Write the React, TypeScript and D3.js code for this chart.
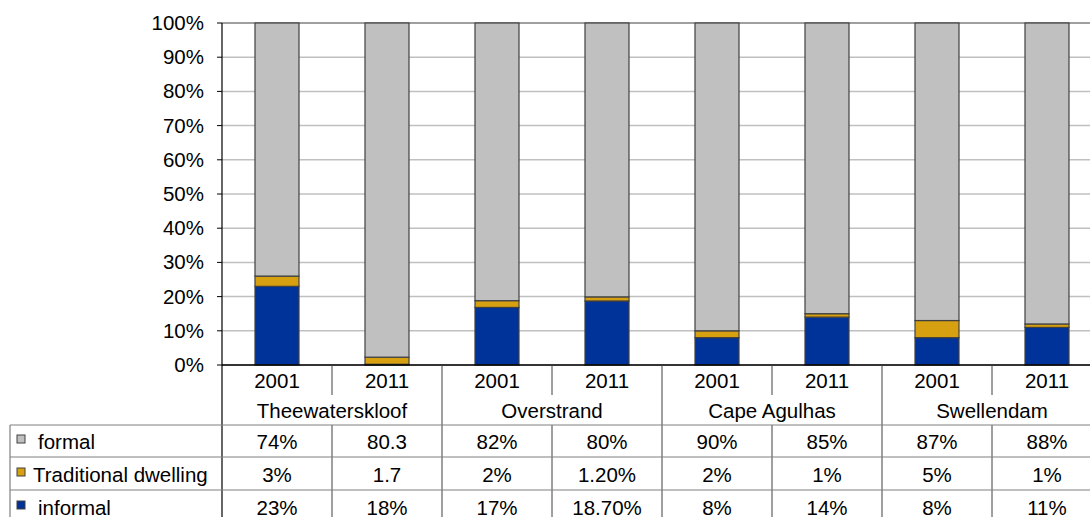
import React from "react";
import * as d3 from "d3";

const municipalities = ["Theewaterskloof", "Overstrand", "Cape Agulhas", "Swellendam"];
const years = ["2001", "2011"];
// raw values as entered in the source sheet (mixed percent/number entries)
const formalValues = [0.74, 80.3, 0.82, 0.8, 0.9, 0.85, 0.87, 0.88];
const traditionalValues = [0.03, 1.7, 0.02, 0.012, 0.02, 0.01, 0.05, 0.01];
const informalValues = [0.23, 0.18, 0.17, 0.187, 0.08, 0.14, 0.08, 0.11];
const formalLabels = ["74%", "80.3", "82%", "80%", "90%", "85%", "87%", "88%"];
const traditionalLabels = ["3%", "1.7", "2%", "1.20%", "2%", "1%", "5%", "1%"];
const informalLabels = ["23%", "18%", "17%", "18.70%", "8%", "14%", "8%", "11%"];
const yTicks = [0, 0.1, 0.2, 0.3, 0.4, 0.5, 0.6, 0.7, 0.8, 0.9, 1];

const seriesKeys = ["informal", "traditional", "formal"];
const seriesNames: Record<string, string> = {
  formal: "formal",
  traditional: "Traditional dwelling",
  informal: "informal",
};
const colors: Record<string, string> = {
  formal: "#C0C0C0",
  traditional: "#D6A010",
  informal: "#003399",
};

export default function App() {
  const W = 1090, H = 517;
  const left = 222, right = 1102, top = 23, bottom = 365;
  const font = "Liberation Sans, Arial, sans-serif";
  const fs = 20.5;

  const rows = formalValues.map((_, i) => ({
    idx: String(i),
    formal: formalValues[i],
    traditional: traditionalValues[i],
    informal: informalValues[i],
  }));
  const idxs = rows.map((r) => r.idx);
  const x = d3.scaleBand<string>().domain(idxs).range([left, right]).paddingInner(0.6).paddingOuter(0.3);
  const slot = d3.scaleBand<string>().domain(idxs).range([left, right]).padding(0);
  const y = d3.scaleLinear().domain([0, 1]).range([bottom, top]);
  const stack = d3.stack<any>().keys(seriesKeys).offset(d3.stackOffsetExpand);
  const series = stack(rows);

  const yearRowBottom = 395;
  const tableTop = 425;
  const rowLines = [425, 457, 490];
  const tableRows = [
    { key: "formal", labels: formalLabels, y: 448 },
    { key: "traditional", labels: traditionalLabels, y: 481 },
    { key: "informal", labels: informalLabels, y: 514 },
  ];
  const step = slot.step();

  return (
    <svg width={W} height={H} style={{ position: "absolute", left: 0, top: 0, background: "#fff" }} fontFamily={font}>
      {/* grid */}
      {yTicks.map((t) => (
        <line key={"g" + t} x1={left} x2={W} y1={y(t)} y2={y(t)} stroke={t === 1 ? "#404040" : "#C0C0C0"} strokeWidth={t === 1 ? 1 : 1.5} />
      ))}
      {/* y ticks and labels */}
      {yTicks.map((t) => (
        <g key={"t" + t}>
          <line x1={left - 5} x2={left} y1={y(t)} y2={y(t)} stroke="#000" />
          <text x={204} y={y(t) + 7} fontSize={fs} textAnchor="end" fill="#000">
            {d3.format(".0%")(t)}
          </text>
        </g>
      ))}
      {/* bars */}
      {series.map((s) => (
        <g key={s.key}>
          {s.map((d, i) => (
            <rect
              key={i}
              x={x(idxs[i])!}
              width={x.bandwidth()}
              y={y(d[1])}
              height={Math.max(0, y(d[0]) - y(d[1]))}
              fill={colors[s.key]}
              stroke="#404040"
              strokeWidth={1.2}
            />
          ))}
        </g>
      ))}
      {/* axes */}
      <line x1={left} x2={left} y1={top} y2={H} stroke="#000" strokeWidth={1.2} />
      <line x1={left} x2={W} y1={bottom} y2={bottom} stroke="#000" strokeWidth={1.5} />
      {/* slot dividers */}
      {idxs.map((id, i) => {
        if (i === 0) return null;
        const xx = slot(id)!;
        const groupBoundary = i % 2 === 0;
        return (
          <g key={"d" + i}>
            <line x1={xx} x2={xx} y1={bottom} y2={groupBoundary ? tableTop : yearRowBottom} stroke="#404040" />
            <line x1={xx} x2={xx} y1={tableTop} y2={H} stroke="#404040" />
          </g>
        );
      })}
      {/* year labels */}
      {idxs.map((id, i) => (
        <text key={"y" + i} x={slot(id)! + step / 2} y={388} fontSize={fs} textAnchor="middle">
          {years[i % 2]}
        </text>
      ))}
      {/* municipality labels */}
      {municipalities.map((m, g) => (
        <text key={m} x={slot(idxs[g * 2])! + step} y={418} fontSize={fs} textAnchor="middle">
          {m}
        </text>
      ))}
      {/* table lines */}
      {rowLines.map((ly) => (
        <line key={"r" + ly} x1={10} x2={W} y1={ly} y2={ly} stroke="#808080" strokeWidth={1.2} />
      ))}
      <line x1={10} x2={10} y1={tableTop} y2={H} stroke="#808080" strokeWidth={1.2} />
      {/* table rows */}
      {tableRows.map((r) => (
        <g key={r.key}>
          <rect x={17} y={r.y - 13} width={8} height={8} fill={colors[r.key]} stroke="#404040" strokeWidth={1} />
          <text x={r.key === "traditional" ? 33 : 38} y={r.y + 1} fontSize={fs}>
            {seriesNames[r.key]}
          </text>
          {r.labels.map((lab, i) => (
            <text key={i} x={slot(idxs[i])! + step / 2} y={r.y + 1} fontSize={fs} textAnchor="middle">
              {lab}
            </text>
          ))}
        </g>
      ))}
    </svg>
  );
}
